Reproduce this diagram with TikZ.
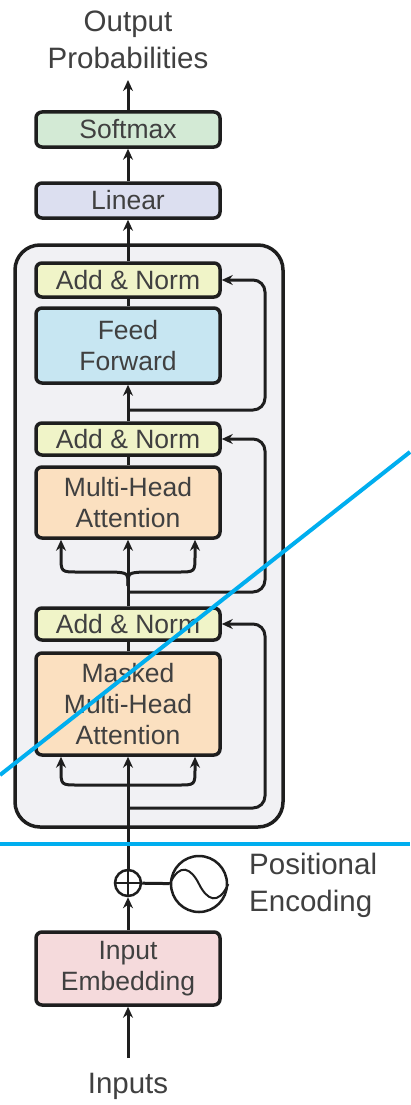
\documentclass[tikz,border=0pt]{standalone}
\usepackage{fontspec}
\setmainfont{Liberation Sans}
\usetikzlibrary{arrows.meta,calc}
\definecolor{txt}{HTML}{404040}
\definecolor{edge}{HTML}{1E1E1E}
\definecolor{cont}{HTML}{F1F1F4}
\definecolor{smx}{HTML}{D3EAD5}
\definecolor{lin}{HTML}{DCDFF0}
\definecolor{anc}{HTML}{F0F4C8}
\definecolor{ffc}{HTML}{C7E6F2}
\definecolor{mhc}{HTML}{FBE0C0}
\definecolor{emc}{HTML}{F5DADC}
\definecolor{cyanline}{HTML}{00AEEF}
\begin{document}
\begin{tikzpicture}[x=1pt,y=-1pt,
  box/.style={draw=edge, line width=3.5pt, rounded corners=6pt, minimum width=184pt,
    text=txt, font=\fontsize{26.5}{31}\selectfont, align=center, inner sep=0pt},
  arr/.style={draw=edge, line width=3pt, -{Stealth[length=11pt,width=10pt]}},
  ln/.style={draw=edge, line width=3pt},
  lbl/.style={text=txt, font=\fontsize{29.5}{37}\selectfont, align=center, inner sep=0pt},
  annot/.style={draw=cyanline, line width=4pt}]
\useasboundingbox (0,0) rectangle (410,1105);
\fill[white] (0,0) rectangle (410,1105);

% container
\node[draw=edge, fill=cont, line width=3.5pt, rounded corners=25pt,
  minimum width=268pt, minimum height=582pt, inner sep=0pt] (dec) at (149,536) {};

% boxes
\node[box, fill=smx, minimum height=35pt] (softmax) at (128,129.5) {Softmax};
\node[box, fill=lin, minimum height=35pt] (linear) at (128,200.5) {Linear};
\node[box, fill=anc, minimum height=34pt] (an1) at (128,280) {Add \& Norm};
\node[box, fill=ffc, minimum height=75pt] (ff) at (128,345.5) {Feed\\Forward};
\node[box, fill=anc, minimum height=32pt] (an2) at (128,439) {Add \& Norm};
\node[box, fill=mhc, minimum height=71pt] (mha) at (128,502.5) {Multi-Head\\Attention};
\node[box, fill=anc, minimum height=32pt] (an3) at (128,624) {Add \& Norm};
\node[box, fill=mhc, minimum height=102pt] (mmha) at (128,704) {Masked\\Multi-Head\\Attention};
\node[box, fill=emc, minimum height=73pt] (emb) at (128,968.5) {Input\\Embedding};

% labels
\node[lbl] (out) at (128,40) {Output\\Probabilities};
\node[lbl] (inp) at (128,1086) {Inputs};
\node[lbl, align=left, anchor=west] (pe) at (249,885) {Positional\\Encoding};

% positional encoding
\node[circle, draw=edge, line width=2.5pt, minimum size=26pt, inner sep=0pt] (plus) at (128,883) {};
\draw[ln, line width=2pt] (plus.north) -- (plus.south);
\draw[ln, line width=2pt] (plus.west) -- (plus.east);
\node[circle, draw=edge, line width=2.5pt, minimum size=56pt, inner sep=0pt] (pos) at (199,884) {};
\draw[ln] (plus) -- (pos);
\draw[ln, line width=2pt] (pos.west) .. controls +(10,-22) and +(-8,-16) .. (pos.center)
  .. controls +(8,16) and +(-10,22) .. (pos.east);

% coordinates
\coordinate (outtip) at (128,80);
\coordinate (inpt) at (128,1058);
\coordinate (rx) at (265,0);
\coordinate (lx) at (61,0);
\coordinate (rrx) at (195,0);
\coordinate (r1) at (128,410);
\coordinate (r2) at (128,592);
\coordinate (r3) at (128,808);
\coordinate (s1) at (128,586);
\coordinate (s2) at (128,785);

% main flow
\draw[arr] (softmax.north) -- (outtip);
\draw[arr] (linear.north) -- (softmax.south);
\draw[arr] (an1.north) -- (linear.south);
\draw[ln] (ff.north) -- (an1.south);
\draw[arr] (an2.north) -- (ff.south);
\draw[ln] (mha.north) -- (an2.south);
\draw[arr] (an3.north) -- (mha.south);
\draw[ln] (mmha.north) -- (an3.south);
\draw[arr] (plus.north) -- (mmha.south);
\draw[arr] (emb.north) -- (plus.south);
\draw[arr] (inpt) -- (emb.south);

% residuals
\draw[arr, rounded corners=12pt] (r1) -- (r1 -| rx) -- (an1.east -| rx) -- (an1.east);
\draw[arr, rounded corners=12pt] (r2) -- (r2 -| rx) -- (an2.east -| rx) -- (an2.east);
\draw[arr, rounded corners=12pt] (r3) -- (r3 -| rx) -- (an3.east -| rx) -- (an3.east);

% branches into multi-head attention
\draw[arr] (s1) .. controls (128,573) .. (114,572) -- (78,572)
  .. controls (61,572) .. (61,556) -- (mha.south -| lx);
\draw[arr] (s1) .. controls (128,573) .. (142,572) -- (178,572)
  .. controls (195,572) .. (195,556) -- (mha.south -| rrx);

% branches into masked multi-head attention
\draw[arr] (s2) -- (78,785) .. controls (61,785) .. (61,769) -- (mmha.south -| lx);
\draw[arr] (s2) -- (178,785) .. controls (195,785) .. (195,769) -- (mmha.south -| rrx);

% annotation lines
\coordinate (h1) at (0,844);
\coordinate (h2) at (410,844);
\coordinate (d1) at (0,775);
\coordinate (d2) at (410,452);
\draw[annot] (h1) -- (h2);
\draw[annot] (d1) -- (d2);
\end{tikzpicture}
\end{document}
